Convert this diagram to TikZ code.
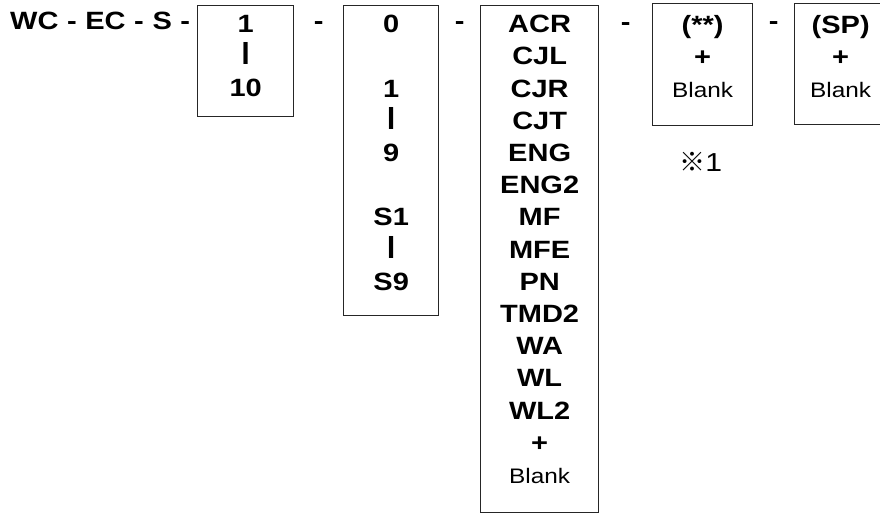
\documentclass[tikz,border=0pt]{standalone}
\usepackage{fontspec}
\usepackage{graphicx}
\newfontfamily\lab[FakeStretch=1.16]{Liberation Sans}
\newfontfamily\cjk{Noto Sans CJK JP}
\usetikzlibrary{positioning, calc}
\newcommand{\rng}{\scalebox{1}[1.28]{I}}
\newcommand{\blnk}{{\mdseries\fontsize{21}{32.2}\selectfont Blank}}

\begin{document}
\begin{tikzpicture}[x=1pt,y=-1pt,
  box/.style={rectangle,draw=black!85,line width=1.3pt,inner sep=0pt,anchor=north west},
  txt/.style={align=center,inner sep=0pt,font=\lab\bfseries\fontsize{25}{32.2}\selectfont},
  sep/.style={inner sep=0pt,anchor=base,font=\lab\bfseries\fontsize{25}{30}\selectfont},
  note/.style={inner sep=0pt,font=\lab\fontsize{26}{30}\selectfont}
]
  \useasboundingbox (0,0) rectangle (880,513);
  \node[sep,anchor=base west] (pre) at (10,30) {\spaceskip=8.6pt\relax WC - EC - S -};
  % boxes
  \node[box,minimum width=96pt,minimum height=111pt] (b1) at (197,5) {};
  \node[box,minimum width=95pt,minimum height=310pt] (b2) at (343,5) {};
  \node[box,minimum width=118pt,minimum height=507pt] (b3) at (480,5) {};
  \node[box,minimum width=100pt,minimum height=122pt] (b4) at (652,3) {};
  \node[box,minimum width=92pt,minimum height=121pt] (b5) at (794,3) {};
  % contents
  \node[txt,below=10pt of b1.north] (t1) {1\\\rng\\10};
  \node[txt,below=10pt of b2.north] (t2) {0\\ \\1\\\rng\\9\\ \\S1\\\rng\\S9};
  \node[txt,below=10pt of b3.north] (t3) {ACR\\CJL\\CJR\\CJT\\ENG\\ENG2\\MF\\MFE\\PN\\TMD2\\WA\\WL\\WL2\\+\\\blnk};
  \node[txt,below=12pt of b4.north] (t4) {(**)\\+\\\blnk};
  \node[txt,below=12pt of b5.north] (t5) {(SP)\\+\\\blnk};
  % separators
  \node[sep] (d1) at ($(b1.north east)!0.5!(b2.north west)+(0,25)$) {-};
  \node[sep] (d2) at ($(b2.north east)!0.5!(b3.north west)+(0,25)$) {-};
  \node[sep] (d3) at ($(b3.north east)!0.5!(b4.north west)+(0,27)$) {-};
  \node[sep] (d4) at ($(b4.north east)!0.5!(b5.north west)+(0,27)$) {-};
  \node[note,below=26pt of b4.south,xshift=-2pt] (n1) {{\cjk ※}1};
\end{tikzpicture}
\end{document}
